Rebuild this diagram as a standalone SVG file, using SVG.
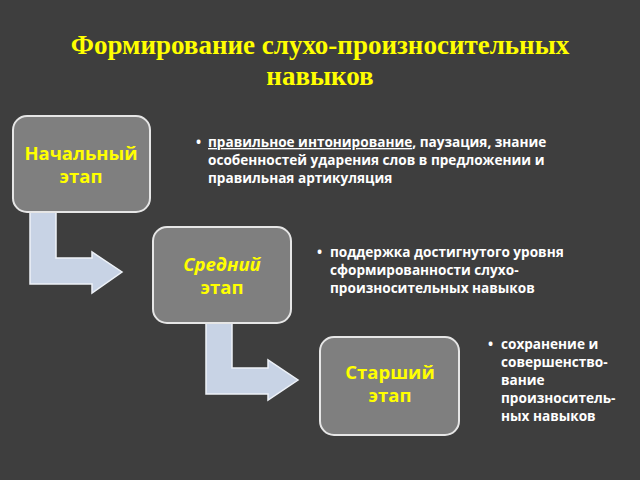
<svg xmlns="http://www.w3.org/2000/svg" width="640" height="480" viewBox="0 0 640 480">
<style>
.box{fill:#7f7f7f;stroke:#e6e6e6;stroke-width:2}
.lbl{font-family:"Open Sans","Noto Sans",sans-serif;font-weight:bold;font-size:18.5px;fill:#ffff00;text-anchor:middle}
.txt{font-family:"Open Sans","Noto Sans",sans-serif;font-weight:bold;font-size:13.6px;fill:#ffffff}
.arr{fill:#c8d3e5;stroke:#eef2f8;stroke-width:1.5}
</style>
<rect width="640" height="480" fill="#3e3e3e"/>
<text x="320" y="54" font-family="Liberation Serif,serif" font-weight="bold" font-size="27" fill="#ffff00" text-anchor="middle">Формирование слухо-произносительных</text>
<text x="320" y="85" font-family="Liberation Serif,serif" font-weight="bold" font-size="27" fill="#ffff00" text-anchor="middle">навыков</text>
<g id="connectors">
<path class="arr" d="M30 212 H56 V258 H92 V252 L122 272 L92 293 V284 H30 Z"/>
<path class="arr" d="M206 323 H232 V368 H268 V360 L298 380 L268 400 V394 H206 Z"/>
</g>
<g id="n1"><rect class="box" x="13" y="116" width="137" height="96" rx="14"/>
<text class="lbl" x="81" y="160">Начальный</text><text class="lbl" x="81" y="183">этап</text></g>
<g id="n2"><rect class="box" x="153" y="227" width="138" height="96" rx="14"/>
<text class="lbl" x="222" y="271" font-style="italic">Средний</text><text class="lbl" x="222" y="294">этап</text></g>
<g id="n3"><rect class="box" x="320" y="337" width="139" height="98" rx="14"/>
<text class="lbl" x="390" y="379">Старший</text><text class="lbl" x="390" y="402">этап</text></g>
<g id="t1" class="txt">
<text x="196" y="147">•</text>
<text x="208" y="147"><tspan text-decoration="underline">правильное интонирование</tspan>, паузация, знание</text>
<text x="208" y="165">особенностей ударения слов в предложении и</text>
<text x="208" y="183">правильная артикуляция</text></g>
<g id="t2" class="txt">
<text x="317" y="257">•</text>
<text x="330" y="257">поддержка достигнутого уровня</text>
<text x="330" y="275">сформированности слухо-</text>
<text x="330" y="293">произносительных навыков</text></g>
<g id="t3" class="txt">
<text x="488" y="349">•</text>
<text x="501" y="349">сохранение и</text>
<text x="501" y="367">совершенство-</text>
<text x="501" y="385">вание</text>
<text x="501" y="403">произноситель-</text>
<text x="501" y="421">ных навыков</text></g>
</svg>
